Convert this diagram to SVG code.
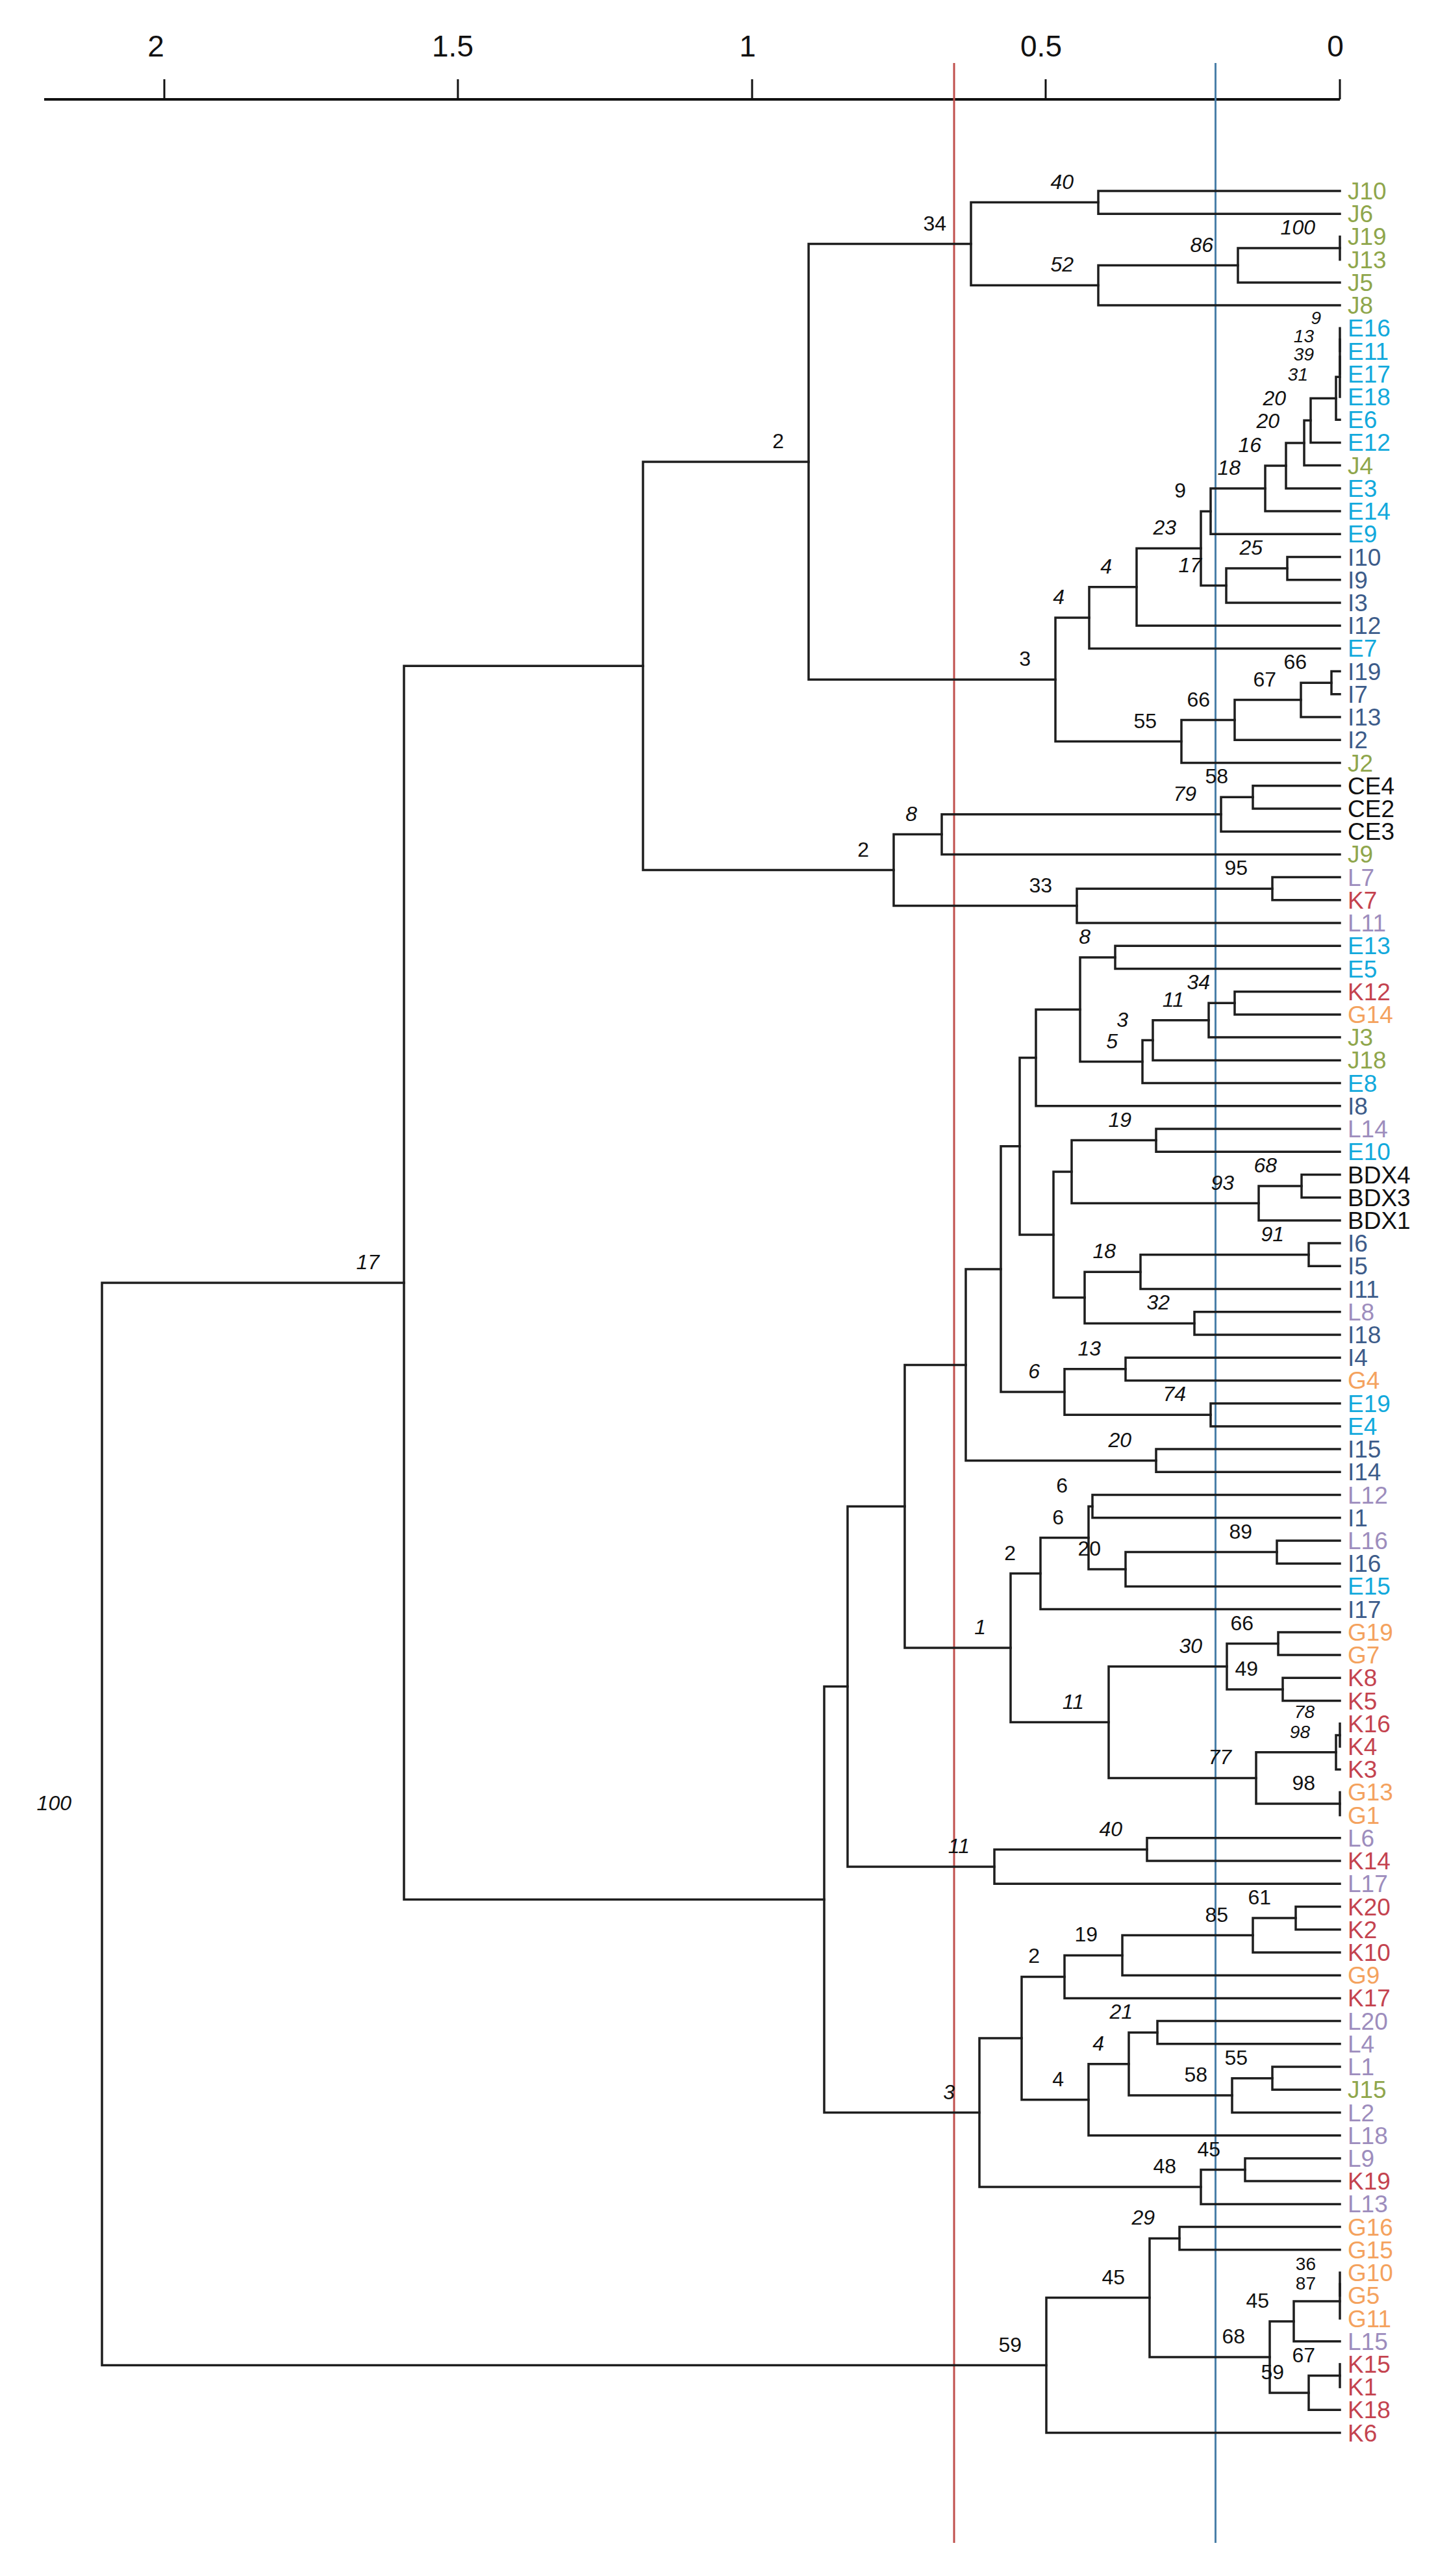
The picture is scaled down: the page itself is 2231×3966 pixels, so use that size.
<svg xmlns="http://www.w3.org/2000/svg" width="2231" height="3966" viewBox="0 0 2231 3966">
<style>
.ax{stroke:#111;stroke-width:4;fill:none}
.tk{stroke:#111;stroke-width:3}
.axl{font-family:"Liberation Sans",Arial,sans-serif;font-size:46px;fill:#111;text-anchor:middle}
.br{stroke:#1e1e1e;stroke-width:3.5;fill:none;stroke-linejoin:miter;stroke-linecap:square}
.bs{font-family:"Liberation Sans",Arial,sans-serif;font-size:32px;font-style:italic;fill:#111;text-anchor:end}
.up{font-style:normal}
.sm{font-size:28px}
.lf{font-family:"Liberation Sans",Arial,sans-serif;font-size:37px}
.J{fill:#8fa64c}.E{fill:#12a9dc}.I{fill:#3d5c8a}.L{fill:#9d8dbd}.K{fill:#c4434f}.G{fill:#f4a25e}.X{fill:#111}
</style>
<rect width="2231" height="3966" fill="#fff"/>
<g id="axis">
<line class="ax" x1="68" y1="153" x2="2063" y2="153"/>
<line class="tk" x1="253" y1="122" x2="253" y2="153"/>
<line class="tk" x1="705" y1="122" x2="705" y2="153"/>
<line class="tk" x1="1158" y1="122" x2="1158" y2="153"/>
<line class="tk" x1="1610" y1="122" x2="1610" y2="153"/>
<line class="tk" x1="2063" y1="122" x2="2063" y2="153"/>
<text class="axl" x="240" y="87">2</text>
<text class="axl" x="697" y="87">1.5</text>
<text class="axl" x="1151" y="87">1</text>
<text class="axl" x="1603" y="87">0.5</text>
<text class="axl" x="2056" y="87">0</text>
</g>
<g id="cutoffs">
<line x1="1469" y1="97" x2="1469" y2="3915" stroke="#c0504d" stroke-width="3"/>
<line x1="1871.5" y1="97" x2="1871.5" y2="3915" stroke="#4a7fa8" stroke-width="3"/>
</g>
<g id="connectors" class="br">
<path d="M2063 294H1691V329.2H2063"/>
<path d="M2063 364.4V399.7"/>
<path d="M2063 382.1H1906V434.9H2063"/>
<path d="M1906 408.5H1691V470.1H2063"/>
<path d="M1691 311.6H1495V439.3H1691"/>
<path d="M2063 505.3V540.5"/>
<path d="M2063 522.9V575.8"/>
<path d="M2063 549.4V611"/>
<path d="M2063 580.2H2057V646.2H2063"/>
<path d="M2057 613.2H2018V681.4H2063"/>
<path d="M2018 647.3H2008V716.6H2063"/>
<path d="M2008 682H1980V751.9H2063"/>
<path d="M1980 716.9H1948V787.1H2063"/>
<path d="M1948 752H1864V822.3H2063"/>
<path d="M2063 857.5H1982V892.7H2063"/>
<path d="M1982 875.1H1888V928H2063"/>
<path d="M1864 787.2H1849V901.5H1888"/>
<path d="M1849 844.3H1750V963.2H2063"/>
<path d="M1750 903.8H1677V998.4H2063"/>
<path d="M2063 1033.6H2050V1068.8H2063"/>
<path d="M2050 1051.2H2003V1104.1H2063"/>
<path d="M2003 1077.6H1901V1139.3H2063"/>
<path d="M1901 1108.5H1819V1174.5H2063"/>
<path d="M1677 951.1H1625V1141.5H1819"/>
<path d="M1495 375.5H1245V1046.3H1625"/>
<path d="M2063 1209.7H1929V1244.9H2063"/>
<path d="M1929 1227.3H1880V1280.2H2063"/>
<path d="M1880 1253.8H1450V1315.4H2063"/>
<path d="M2063 1350.6H1959V1385.8H2063"/>
<path d="M1959 1368.2H1658V1421H2063"/>
<path d="M1450 1284.6H1376V1394.6H1658"/>
<path d="M1245 710.9H990V1339.6H1376"/>
<path d="M2063 1456.3H1717V1491.5H2063"/>
<path d="M2063 1526.7H1901V1561.9H2063"/>
<path d="M1901 1544.3H1861V1597.1H2063"/>
<path d="M1861 1570.7H1775V1632.4H2063"/>
<path d="M1775 1601.6H1759V1667.6H2063"/>
<path d="M1717 1473.9H1663V1634.6H1759"/>
<path d="M1663 1554.3H1595V1702.8H2063"/>
<path d="M2063 1738H1780V1773.2H2063"/>
<path d="M2063 1808.5H2004V1843.7H2063"/>
<path d="M2004 1826.1H1938V1878.9H2063"/>
<path d="M1780 1755.6H1650V1852.5H1938"/>
<path d="M2063 1914.1H2015V1949.3H2063"/>
<path d="M2015 1931.7H1756V1984.6H2063"/>
<path d="M2063 2019.8H1839V2055H2063"/>
<path d="M1756 1958.2H1670V2037.4H1839"/>
<path d="M1650 1804.1H1622V1997.8H1670"/>
<path d="M1595 1628.6H1570V1901H1622"/>
<path d="M2063 2090.2H1733V2125.4H2063"/>
<path d="M2063 2160.7H1864V2195.9H2063"/>
<path d="M1733 2107.8H1639V2178.3H1864"/>
<path d="M1570 1764.8H1541V2143.1H1639"/>
<path d="M2063 2231.1H1780V2266.3H2063"/>
<path d="M1541 1954H1487V2248.7H1780"/>
<path d="M2063 2301.5H1682V2336.8H2063"/>
<path d="M2063 2372H1966V2407.2H2063"/>
<path d="M1966 2389.6H1733V2442.4H2063"/>
<path d="M1682 2319.2H1676V2416H1733"/>
<path d="M1676 2367.6H1602V2477.6H2063"/>
<path d="M2063 2512.9H1968V2548.1H2063"/>
<path d="M2063 2583.3H1975V2618.5H2063"/>
<path d="M1968 2530.5H1889V2600.9H1975"/>
<path d="M2063 2653.7V2689"/>
<path d="M2063 2671.4H2057V2724.2H2063"/>
<path d="M2063 2759.4V2794.6"/>
<path d="M2057 2697.8H1934V2777H2063"/>
<path d="M1889 2565.7H1707V2737.4H1934"/>
<path d="M1602 2422.6H1556V2651.6H1707"/>
<path d="M1487 2101.4H1393V2537.1H1556"/>
<path d="M2063 2829.8H1766V2865.1H2063"/>
<path d="M1766 2847.5H1531V2900.3H2063"/>
<path d="M1393 2319.3H1305V2873.9H1531"/>
<path d="M2063 2935.5H1995V2970.7H2063"/>
<path d="M1995 2953.1H1929V3005.9H2063"/>
<path d="M1929 2979.5H1728V3041.2H2063"/>
<path d="M1728 3010.4H1639V3076.4H2063"/>
<path d="M2063 3111.6H1782V3146.8H2063"/>
<path d="M2063 3182H1959V3217.3H2063"/>
<path d="M1959 3199.7H1897V3252.5H2063"/>
<path d="M1782 3129.2H1738V3226.1H1897"/>
<path d="M1738 3177.7H1676V3287.7H2063"/>
<path d="M1639 3043.4H1573V3232.7H1676"/>
<path d="M2063 3322.9H1917V3358.1H2063"/>
<path d="M1917 3340.5H1849V3393.4H2063"/>
<path d="M1573 3138.1H1508V3367H1849"/>
<path d="M1305 2596.6H1269V3252.6H1508"/>
<path d="M990 1025.3H622V2924.6H1269"/>
<path d="M2063 3428.6H1816V3463.8H2063"/>
<path d="M2063 3499V3534.2"/>
<path d="M2063 3516.6V3569.5"/>
<path d="M2063 3543.1H1992V3604.7H2063"/>
<path d="M2063 3639.9V3675.1"/>
<path d="M2063 3657.5H2015V3710.3H2063"/>
<path d="M1992 3573.9H1955V3683.9H2015"/>
<path d="M1816 3446.2H1770V3628.9H1955"/>
<path d="M1770 3537.6H1611V3745.6H2063"/>
<path d="M622 1975H157V3641.6H1611"/>
</g>
<g id="internal-nodes">
<g id="n40"><text class="bs" x="1653" y="290.6">40</text></g>
<g id="n100a"><text class="bs" x="2025" y="361">100</text></g>
<g id="n86"><text class="bs" x="1868" y="387.5">86</text></g>
<g id="n52"><text class="bs" x="1653" y="418.3">52</text></g>
<g id="n34"><text class="bs up" x="1457" y="354.5">34</text></g>
<g id="n9"><text class="bs sm" x="2034" y="499">9</text></g>
<g id="n13"><text class="bs sm" x="2023" y="527">13</text></g>
<g id="n39"><text class="bs sm" x="2023" y="555">39</text></g>
<g id="n31"><text class="bs sm" x="2014" y="586">31</text></g>
<g id="n20a"><text class="bs" x="1980" y="624">20</text></g>
<g id="n20b"><text class="bs" x="1970" y="659">20</text></g>
<g id="n16"><text class="bs" x="1942" y="695.9">16</text></g>
<g id="n18"><text class="bs" x="1910" y="731">18</text></g>
<g id="n9b"><text class="bs up" x="1826" y="766.2">9</text></g>
<g id="n25"><text class="bs" x="1944" y="854.1">25</text></g>
<g id="n17b"><text class="bs" x="1850" y="880.5">17</text></g>
<g id="n23"><text class="bs" x="1811" y="823.3">23</text></g>
<g id="n4a"><text class="bs" x="1712" y="882.8">4</text></g>
<g id="n4b"><text class="bs" x="1639" y="930.1">4</text></g>
<g id="n66b"><text class="bs up" x="2012" y="1030.2">66</text></g>
<g id="n67"><text class="bs up" x="1965" y="1056.6">67</text></g>
<g id="n66a"><text class="bs up" x="1863" y="1087.5">66</text></g>
<g id="n55"><text class="bs up" x="1781" y="1120.5">55</text></g>
<g id="n3"><text class="bs up" x="1587" y="1025.3">3</text></g>
<g id="n2u"><text class="bs up" x="1207" y="689.9">2</text></g>
<g id="n58"><text class="bs up" x="1891" y="1206.3">58</text></g>
<g id="n79"><text class="bs" x="1842" y="1232.8">79</text></g>
<g id="n8"><text class="bs" x="1412" y="1263.6">8</text></g>
<g id="n95"><text class="bs up" x="1921" y="1347.2">95</text></g>
<g id="n33"><text class="bs up" x="1620" y="1373.6">33</text></g>
<g id="n2l"><text class="bs up" x="1338" y="1318.6">2</text></g>
<g id="n8b"><text class="bs" x="1679" y="1452.9">8</text></g>
<g id="n34b"><text class="bs" x="1863" y="1523.3">34</text></g>
<g id="n11"><text class="bs" x="1823" y="1549.7">11</text></g>
<g id="n3s"><text class="bs" x="1737" y="1580.6">3</text></g>
<g id="n5"><text class="bs" x="1721" y="1613.6">5</text></g>
<g id="n19"><text class="bs" x="1742" y="1734.6">19</text></g>
<g id="n68"><text class="bs" x="1966" y="1805.1">68</text></g>
<g id="n93"><text class="bs" x="1900" y="1831.5">93</text></g>
<g id="n91"><text class="bs" x="1977" y="1910.7">91</text></g>
<g id="n18b"><text class="bs" x="1718" y="1937.2">18</text></g>
<g id="n32"><text class="bs" x="1801" y="2016.4">32</text></g>
<g id="n13b"><text class="bs" x="1695" y="2086.8">13</text></g>
<g id="n74"><text class="bs" x="1826" y="2157.3">74</text></g>
<g id="n6"><text class="bs" x="1601" y="2122.1">6</text></g>
<g id="n20c"><text class="bs" x="1742" y="2227.7">20</text></g>
<g id="n6a"><text class="bs up" x="1644" y="2298.2">6</text></g>
<g id="n89"><text class="bs up" x="1928" y="2368.6">89</text></g>
<g id="n20d"><text class="bs up" x="1695" y="2395">20</text></g>
<g id="n6b"><text class="bs up" x="1638" y="2346.6">6</text></g>
<g id="n2c"><text class="bs up" x="1564" y="2401.6">2</text></g>
<g id="n66c"><text class="bs up" x="1930" y="2509.5">66</text></g>
<g id="n49"><text class="bs up" x="1937" y="2579.9">49</text></g>
<g id="n30"><text class="bs" x="1851" y="2544.7">30</text></g>
<g id="n78"><text class="bs sm" x="2024" y="2645">78</text></g>
<g id="n98a"><text class="bs sm" x="2017" y="2676">98</text></g>
<g id="n98b"><text class="bs up" x="2025" y="2756">98</text></g>
<g id="n77"><text class="bs" x="1896" y="2716.4">77</text></g>
<g id="n11b"><text class="bs" x="1669" y="2630.6">11</text></g>
<g id="n1"><text class="bs" x="1518" y="2516.1">1</text></g>
<g id="n40b"><text class="bs" x="1728" y="2826.5">40</text></g>
<g id="n11c"><text class="bs" x="1493" y="2852.9">11</text></g>
<g id="n61"><text class="bs up" x="1957" y="2932.1">61</text></g>
<g id="n85"><text class="bs up" x="1891" y="2958.5">85</text></g>
<g id="n19b"><text class="bs up" x="1690" y="2989.4">19</text></g>
<g id="n2d"><text class="bs up" x="1601" y="3022.4">2</text></g>
<g id="n21"><text class="bs" x="1744" y="3108.2">21</text></g>
<g id="n55b"><text class="bs up" x="1921" y="3178.7">55</text></g>
<g id="n58b"><text class="bs up" x="1859" y="3205.1">58</text></g>
<g id="n4c"><text class="bs" x="1700" y="3156.7">4</text></g>
<g id="n4d"><text class="bs up" x="1638" y="3211.7">4</text></g>
<g id="n45a"><text class="bs up" x="1879" y="3319.5">45</text></g>
<g id="n48"><text class="bs up" x="1811" y="3346">48</text></g>
<g id="n3big"><text class="bs" x="1470" y="3231.6">3</text></g>
<g id="n17"><text class="bs" x="584" y="1954">17</text></g>
<g id="n29"><text class="bs" x="1778" y="3425.2">29</text></g>
<g id="n36"><text class="bs up sm" x="2026" y="3495">36</text></g>
<g id="n87"><text class="bs up sm" x="2026" y="3525">87</text></g>
<g id="n45c"><text class="bs up" x="1954" y="3552.9">45</text></g>
<g id="n67b"><text class="bs up" x="2025" y="3636.5">67</text></g>
<g id="n59s"><text class="bs up" x="1977" y="3662.9">59</text></g>
<g id="n68b"><text class="bs up" x="1917" y="3607.9">68</text></g>
<g id="n45b"><text class="bs up" x="1732" y="3516.6">45</text></g>
<g id="n59"><text class="bs up" x="1573" y="3620.6">59</text></g>
<g id="root"><text class="bs" x="110" y="2787.3">100</text></g>
</g>
<g id="leaves" class="lf">
<g id="leaf-J10"><text class="J" x="2075" y="307">J10</text></g>
<g id="leaf-J6"><text class="J" x="2075" y="342.2">J6</text></g>
<g id="leaf-J19"><text class="J" x="2075" y="377.4">J19</text></g>
<g id="leaf-J13"><text class="J" x="2075" y="412.7">J13</text></g>
<g id="leaf-J5"><text class="J" x="2075" y="447.9">J5</text></g>
<g id="leaf-J8"><text class="J" x="2075" y="483.1">J8</text></g>
<g id="leaf-E16"><text class="E" x="2075" y="518.3">E16</text></g>
<g id="leaf-E11"><text class="E" x="2075" y="553.5">E11</text></g>
<g id="leaf-E17"><text class="E" x="2075" y="588.8">E17</text></g>
<g id="leaf-E18"><text class="E" x="2075" y="624">E18</text></g>
<g id="leaf-E6"><text class="E" x="2075" y="659.2">E6</text></g>
<g id="leaf-E12"><text class="E" x="2075" y="694.4">E12</text></g>
<g id="leaf-J4"><text class="J" x="2075" y="729.6">J4</text></g>
<g id="leaf-E3"><text class="E" x="2075" y="764.9">E3</text></g>
<g id="leaf-E14"><text class="E" x="2075" y="800.1">E14</text></g>
<g id="leaf-E9"><text class="E" x="2075" y="835.3">E9</text></g>
<g id="leaf-I10"><text class="I" x="2075" y="870.5">I10</text></g>
<g id="leaf-I9"><text class="I" x="2075" y="905.7">I9</text></g>
<g id="leaf-I3"><text class="I" x="2075" y="941">I3</text></g>
<g id="leaf-I12"><text class="I" x="2075" y="976.2">I12</text></g>
<g id="leaf-E7"><text class="E" x="2075" y="1011.4">E7</text></g>
<g id="leaf-I19"><text class="I" x="2075" y="1046.6">I19</text></g>
<g id="leaf-I7"><text class="I" x="2075" y="1081.8">I7</text></g>
<g id="leaf-I13"><text class="I" x="2075" y="1117.1">I13</text></g>
<g id="leaf-I2"><text class="I" x="2075" y="1152.3">I2</text></g>
<g id="leaf-J2"><text class="J" x="2075" y="1187.5">J2</text></g>
<g id="leaf-CE4"><text class="X" x="2075" y="1222.7">CE4</text></g>
<g id="leaf-CE2"><text class="X" x="2075" y="1257.9">CE2</text></g>
<g id="leaf-CE3"><text class="X" x="2075" y="1293.2">CE3</text></g>
<g id="leaf-J9"><text class="J" x="2075" y="1328.4">J9</text></g>
<g id="leaf-L7"><text class="L" x="2075" y="1363.6">L7</text></g>
<g id="leaf-K7"><text class="K" x="2075" y="1398.8">K7</text></g>
<g id="leaf-L11"><text class="L" x="2075" y="1434">L11</text></g>
<g id="leaf-E13"><text class="E" x="2075" y="1469.3">E13</text></g>
<g id="leaf-E5"><text class="E" x="2075" y="1504.5">E5</text></g>
<g id="leaf-K12"><text class="K" x="2075" y="1539.7">K12</text></g>
<g id="leaf-G14"><text class="G" x="2075" y="1574.9">G14</text></g>
<g id="leaf-J3"><text class="J" x="2075" y="1610.1">J3</text></g>
<g id="leaf-J18"><text class="J" x="2075" y="1645.4">J18</text></g>
<g id="leaf-E8"><text class="E" x="2075" y="1680.6">E8</text></g>
<g id="leaf-I8"><text class="I" x="2075" y="1715.8">I8</text></g>
<g id="leaf-L14"><text class="L" x="2075" y="1751">L14</text></g>
<g id="leaf-E10"><text class="E" x="2075" y="1786.2">E10</text></g>
<g id="leaf-BDX4"><text class="X" x="2075" y="1821.5">BDX4</text></g>
<g id="leaf-BDX3"><text class="X" x="2075" y="1856.7">BDX3</text></g>
<g id="leaf-BDX1"><text class="X" x="2075" y="1891.9">BDX1</text></g>
<g id="leaf-I6"><text class="I" x="2075" y="1927.1">I6</text></g>
<g id="leaf-I5"><text class="I" x="2075" y="1962.3">I5</text></g>
<g id="leaf-I11"><text class="I" x="2075" y="1997.6">I11</text></g>
<g id="leaf-L8"><text class="L" x="2075" y="2032.8">L8</text></g>
<g id="leaf-I18"><text class="I" x="2075" y="2068">I18</text></g>
<g id="leaf-I4"><text class="I" x="2075" y="2103.2">I4</text></g>
<g id="leaf-G4"><text class="G" x="2075" y="2138.4">G4</text></g>
<g id="leaf-E19"><text class="E" x="2075" y="2173.7">E19</text></g>
<g id="leaf-E4"><text class="E" x="2075" y="2208.9">E4</text></g>
<g id="leaf-I15"><text class="I" x="2075" y="2244.1">I15</text></g>
<g id="leaf-I14"><text class="I" x="2075" y="2279.3">I14</text></g>
<g id="leaf-L12"><text class="L" x="2075" y="2314.5">L12</text></g>
<g id="leaf-I1"><text class="I" x="2075" y="2349.8">I1</text></g>
<g id="leaf-L16"><text class="L" x="2075" y="2385">L16</text></g>
<g id="leaf-I16"><text class="I" x="2075" y="2420.2">I16</text></g>
<g id="leaf-E15"><text class="E" x="2075" y="2455.4">E15</text></g>
<g id="leaf-I17"><text class="I" x="2075" y="2490.6">I17</text></g>
<g id="leaf-G19"><text class="G" x="2075" y="2525.9">G19</text></g>
<g id="leaf-G7"><text class="G" x="2075" y="2561.1">G7</text></g>
<g id="leaf-K8"><text class="K" x="2075" y="2596.3">K8</text></g>
<g id="leaf-K5"><text class="K" x="2075" y="2631.5">K5</text></g>
<g id="leaf-K16"><text class="K" x="2075" y="2666.7">K16</text></g>
<g id="leaf-K4"><text class="K" x="2075" y="2702">K4</text></g>
<g id="leaf-K3"><text class="K" x="2075" y="2737.2">K3</text></g>
<g id="leaf-G13"><text class="G" x="2075" y="2772.4">G13</text></g>
<g id="leaf-G1"><text class="G" x="2075" y="2807.6">G1</text></g>
<g id="leaf-L6"><text class="L" x="2075" y="2842.8">L6</text></g>
<g id="leaf-K14"><text class="K" x="2075" y="2878.1">K14</text></g>
<g id="leaf-L17"><text class="L" x="2075" y="2913.3">L17</text></g>
<g id="leaf-K20"><text class="K" x="2075" y="2948.5">K20</text></g>
<g id="leaf-K2"><text class="K" x="2075" y="2983.7">K2</text></g>
<g id="leaf-K10"><text class="K" x="2075" y="3018.9">K10</text></g>
<g id="leaf-G9"><text class="G" x="2075" y="3054.2">G9</text></g>
<g id="leaf-K17"><text class="K" x="2075" y="3089.4">K17</text></g>
<g id="leaf-L20"><text class="L" x="2075" y="3124.6">L20</text></g>
<g id="leaf-L4"><text class="L" x="2075" y="3159.8">L4</text></g>
<g id="leaf-L1"><text class="L" x="2075" y="3195">L1</text></g>
<g id="leaf-J15"><text class="J" x="2075" y="3230.3">J15</text></g>
<g id="leaf-L2"><text class="L" x="2075" y="3265.5">L2</text></g>
<g id="leaf-L18"><text class="L" x="2075" y="3300.7">L18</text></g>
<g id="leaf-L9"><text class="L" x="2075" y="3335.9">L9</text></g>
<g id="leaf-K19"><text class="K" x="2075" y="3371.1">K19</text></g>
<g id="leaf-L13"><text class="L" x="2075" y="3406.4">L13</text></g>
<g id="leaf-G16"><text class="G" x="2075" y="3441.6">G16</text></g>
<g id="leaf-G15"><text class="G" x="2075" y="3476.8">G15</text></g>
<g id="leaf-G10"><text class="G" x="2075" y="3512">G10</text></g>
<g id="leaf-G5"><text class="G" x="2075" y="3547.2">G5</text></g>
<g id="leaf-G11"><text class="G" x="2075" y="3582.5">G11</text></g>
<g id="leaf-L15"><text class="L" x="2075" y="3617.7">L15</text></g>
<g id="leaf-K15"><text class="K" x="2075" y="3652.9">K15</text></g>
<g id="leaf-K1"><text class="K" x="2075" y="3688.1">K1</text></g>
<g id="leaf-K18"><text class="K" x="2075" y="3723.3">K18</text></g>
<g id="leaf-K6"><text class="K" x="2075" y="3758.6">K6</text></g>
</g>
</svg>
